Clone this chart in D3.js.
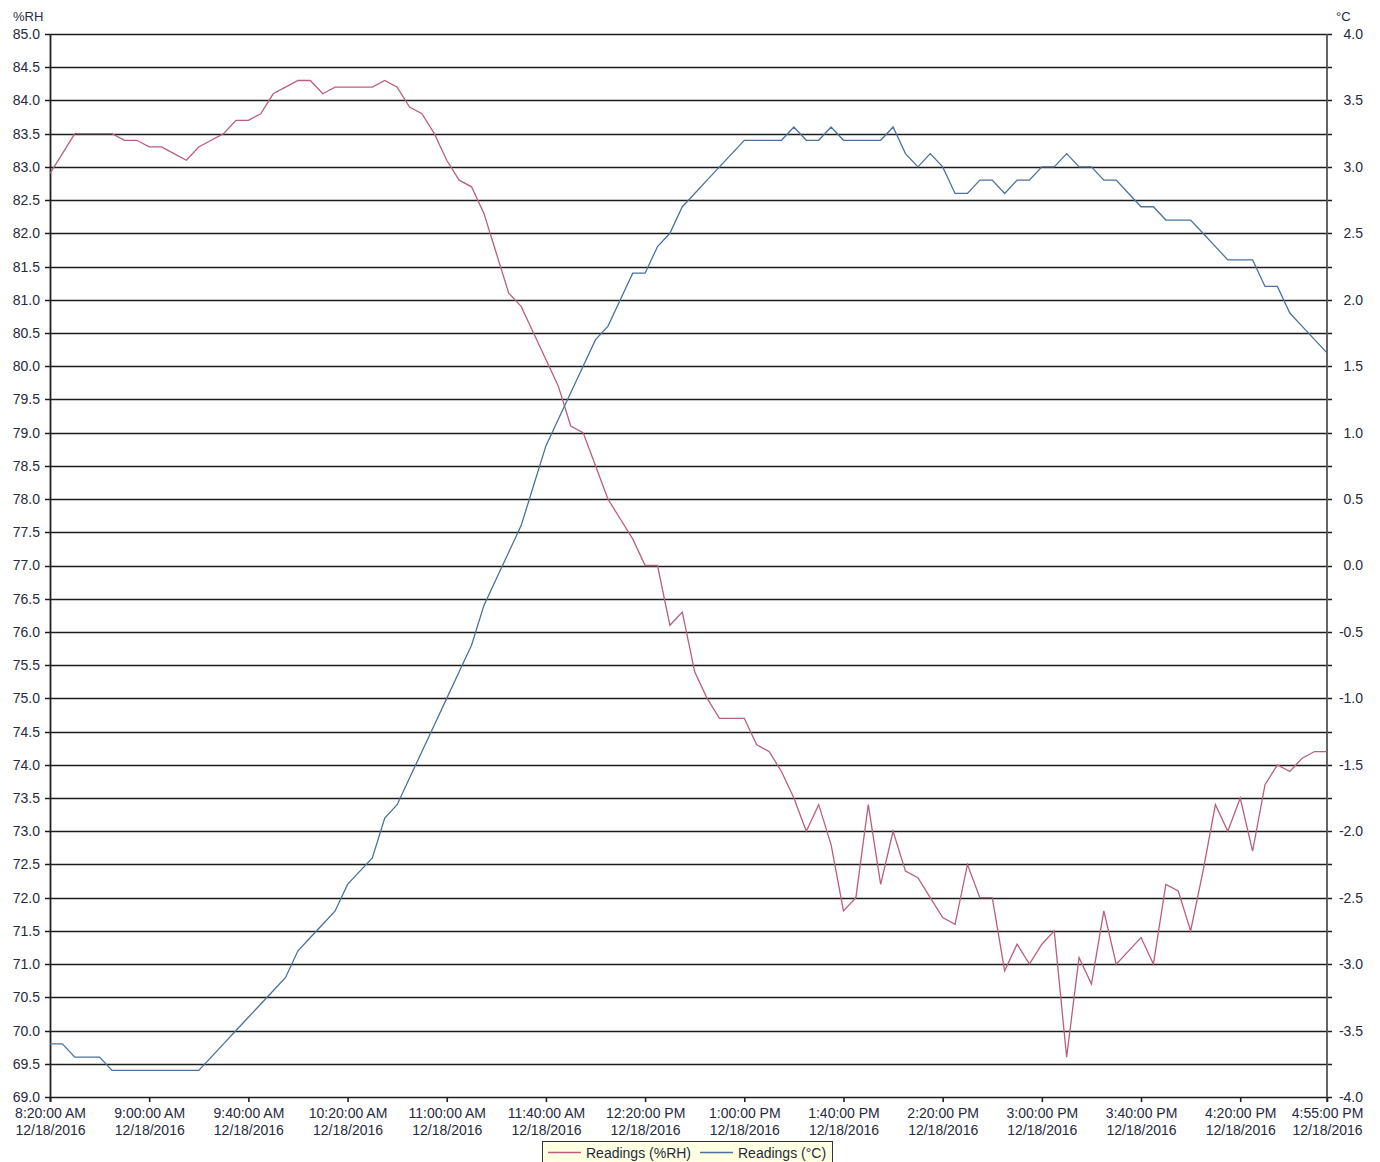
<!DOCTYPE html>
<html>
<head>
<meta charset="utf-8">
<script src="https://cdn.jsdelivr.net/npm/d3@7"></script>
<style>
  body { margin: 0; background: #fff; }
  svg { display: block; font-family: "Liberation Sans", Arial, sans-serif; }
</style>
</head>
<body>
<svg id="chart" width="1380" height="1162"></svg>
<script>
// readings every 5 minutes, 12/18/2016
var START_TIME = "2016-12-18T08:20:00";
var END_TIME = "2016-12-18T16:55:00";
var STEP_MINUTES = 5;

var rhValues = [
  82.9, 83.2, 83.5, 83.5, 83.5, 83.5, 83.4, 83.4, 83.3, 83.3,
  83.2, 83.1, 83.3, 83.4, 83.5, 83.7, 83.7, 83.8, 84.1, 84.2,
  84.3, 84.3, 84.1, 84.2, 84.2, 84.2, 84.2, 84.3, 84.2, 83.9,
  83.8, 83.5, 83.1, 82.8, 82.7, 82.3, 81.7, 81.1, 80.9, 80.5,
  80.1, 79.7, 79.1, 79.0, 78.5, 78.0, 77.7, 77.4, 77.0, 77.0,
  76.1, 76.3, 75.4, 75.0, 74.7, 74.7, 74.7, 74.3, 74.2, 73.9,
  73.5, 73.0, 73.4, 72.8, 71.8, 72.0, 73.4, 72.2, 73.0, 72.4,
  72.3, 72.0, 71.7, 71.6, 72.5, 72.0, 72.0, 70.9, 71.3, 71.0,
  71.3, 71.5, 69.6, 71.1, 70.7, 71.8, 71.0, 71.2, 71.4, 71.0,
  72.2, 72.1, 71.5, 72.4, 73.4, 73.0, 73.5, 72.7, 73.7, 74.0,
  73.9, 74.1, 74.2, 74.2
];

var tempValues = [
  -3.6, -3.6, -3.7, -3.7, -3.7, -3.8, -3.8, -3.8, -3.8, -3.8,
  -3.8, -3.8, -3.8, -3.7, -3.6, -3.5, -3.4, -3.3, -3.2, -3.1,
  -2.9, -2.8, -2.7, -2.6, -2.4, -2.3, -2.2, -1.9, -1.8, -1.6,
  -1.4, -1.2, -1.0, -0.8, -0.6, -0.3, -0.1, 0.1, 0.3, 0.6,
  0.9, 1.1, 1.3, 1.5, 1.7, 1.8, 2.0, 2.2, 2.2, 2.4,
  2.5, 2.7, 2.8, 2.9, 3.0, 3.1, 3.2, 3.2, 3.2, 3.2,
  3.3, 3.2, 3.2, 3.3, 3.2, 3.2, 3.2, 3.2, 3.3, 3.1,
  3.0, 3.1, 3.0, 2.8, 2.8, 2.9, 2.9, 2.8, 2.9, 2.9,
  3.0, 3.0, 3.1, 3.0, 3.0, 2.9, 2.9, 2.8, 2.7, 2.7,
  2.6, 2.6, 2.6, 2.5, 2.4, 2.3, 2.3, 2.3, 2.1, 2.1,
  1.9, 1.8, 1.7, 1.6
];

var xTickTimes = [
  "08:20", "09:00", "09:40", "10:20", "11:00", "11:40", "12:20",
  "13:00", "13:40", "14:20", "15:00", "15:40", "16:20", "16:55"
];

var rhDomain = [69, 85];
var tempDomain = [-4, 4];
var seriesNames = ["Readings (%RH)", "Readings (\u00b0C)"];
var seriesColors = ["#b95e80", "#4a729c"];

var svg = d3.select("#chart");
var margin = { left: 50, right: 53, top: 34, bottom: 65 };
var W = 1380, H = 1162;
var plotW = W - margin.left - margin.right;   // 1277
var plotH = H - margin.top - margin.bottom;   // 1063

var parseT = d3.timeParse("%Y-%m-%dT%H:%M:%S");
var t0 = parseT(START_TIME);

var x = d3.scaleTime()
  .domain([t0, parseT(END_TIME)])
  .range([margin.left, margin.left + plotW]);
var yL = d3.scaleLinear().domain(rhDomain).range([margin.top + plotH, margin.top]);
var yR = d3.scaleLinear().domain(tempDomain).range([margin.top + plotH, margin.top]);

function timeAt(i) {
  return d3.timeMinute.offset(t0, i * STEP_MINUTES);
}

// plain hyphen for negatives, like the original
function fmt1(d) {
  return d.toFixed(1);
}

var rhTicks = d3.range(69, 85.001, 0.5);
var tempTicks = d3.range(-4, 4.001, 0.5);

// horizontal grid (left axis ticks)
svg.append("g").selectAll("line").data(rhTicks).enter().append("line")
  .attr("x1", margin.left - 5)
  .attr("x2", margin.left + plotW + 5)
  .attr("y1", function(d) { return Math.round(yL(d)) + 0.5; })
  .attr("y2", function(d) { return Math.round(yL(d)) + 0.5; })
  .attr("stroke", "#1c1c1c")
  .attr("stroke-width", 1.6);

// left axis
var leftAxis = d3.axisLeft(yL).tickValues(rhTicks).tickSize(5).tickPadding(5)
  .tickFormat(fmt1);
var gL = svg.append("g").attr("transform", "translate(" + margin.left + ",0)").call(leftAxis);
gL.select(".domain").remove();
gL.selectAll(".tick line").remove();
gL.selectAll("text").attr("font-size", 14).attr("fill", "#262a40")
  .attr("font-family", "Liberation Sans, Arial, sans-serif");

// right axis
var rightAxis = d3.axisRight(yR).tickValues(tempTicks).tickSize(0).tickPadding(0)
  .tickFormat(fmt1);
var gR = svg.append("g").attr("transform", "translate(" + (margin.left + plotW) + ",0)").call(rightAxis);
gR.select(".domain").remove();
gR.selectAll("text").attr("font-size", 14).attr("fill", "#262a40")
  .attr("font-family", "Liberation Sans, Arial, sans-serif")
  .attr("text-anchor", "end").attr("x", 36);

// vertical frame lines
svg.append("line")
  .attr("x1", margin.left + 0.5).attr("x2", margin.left + 0.5)
  .attr("y1", margin.top).attr("y2", margin.top + plotH + 5)
  .attr("stroke", "#222").attr("stroke-width", 1.8);
svg.append("line")
  .attr("x1", margin.left + plotW).attr("x2", margin.left + plotW)
  .attr("y1", margin.top).attr("y2", margin.top + plotH + 5)
  .attr("stroke", "#555").attr("stroke-width", 1.8);

// bottom axis
var xTicks = xTickTimes.map(function(s) { return parseT("2016-12-18T" + s + ":00"); });
var fmtTime = d3.timeFormat("%-I:%M:%S %p");
var fmtDate = d3.timeFormat("%m/%d/%Y");
var bottomAxis = d3.axisBottom(x).tickValues(xTicks).tickSize(5).tickFormat("");
var gB = svg.append("g").attr("transform", "translate(0," + (margin.top + plotH) + ")").call(bottomAxis);
gB.select(".domain").remove();
gB.selectAll(".tick line").attr("stroke", "#222").attr("stroke-width", 1.6);
gB.selectAll(".tick").each(function(d) {
  var tk = d3.select(this);
  tk.select("text").remove();
  var txt = tk.append("text").attr("fill", "#262a40").attr("font-size", 14)
    .attr("text-anchor", "middle")
    .attr("font-family", "Liberation Sans, Arial, sans-serif");
  txt.append("tspan").attr("x", 0).attr("y", 21).text(fmtTime(d));
  txt.append("tspan").attr("x", 0).attr("y", 38).text(fmtDate(d));
});

// axis titles
svg.append("text").attr("x", 13).attr("y", 21).attr("font-size", 13)
  .attr("fill", "#262a40").text("%RH");
svg.append("text").attr("x", 1336).attr("y", 21).attr("font-size", 13)
  .attr("fill", "#262a40").text("\u00b0C");

// series lines
var rhLine = d3.line()
  .x(function(d, i) { return x(timeAt(i)); })
  .y(function(d) { return yL(d); });
var tempLine = d3.line()
  .x(function(d, i) { return x(timeAt(i)); })
  .y(function(d) { return yR(d); });

svg.append("path").datum(rhValues)
  .attr("d", rhLine)
  .attr("fill", "none")
  .attr("stroke", seriesColors[0])
  .attr("stroke-width", 1.3);
svg.append("path").datum(tempValues)
  .attr("d", tempLine)
  .attr("fill", "none")
  .attr("stroke", seriesColors[1])
  .attr("stroke-width", 1.3);

// legend
var lg = svg.append("g").attr("transform", "translate(542,1141)");
lg.append("rect").attr("x", 0.5).attr("y", 0.5).attr("width", 290).attr("height", 26)
  .attr("fill", "#ffffe1").attr("stroke", "#333").attr("stroke-width", 1);
var legendX = [6, 158];
seriesNames.forEach(function(name, k) {
  lg.append("line")
    .attr("x1", legendX[k]).attr("x2", legendX[k] + 33)
    .attr("y1", 11.5).attr("y2", 11.5)
    .attr("stroke", seriesColors[k]).attr("stroke-width", 1.3);
  lg.append("text")
    .attr("x", legendX[k] + 38).attr("y", 16.5)
    .attr("font-size", 14).attr("fill", "#262a40")
    .text(name);
});
</script>
</body>
</html>
